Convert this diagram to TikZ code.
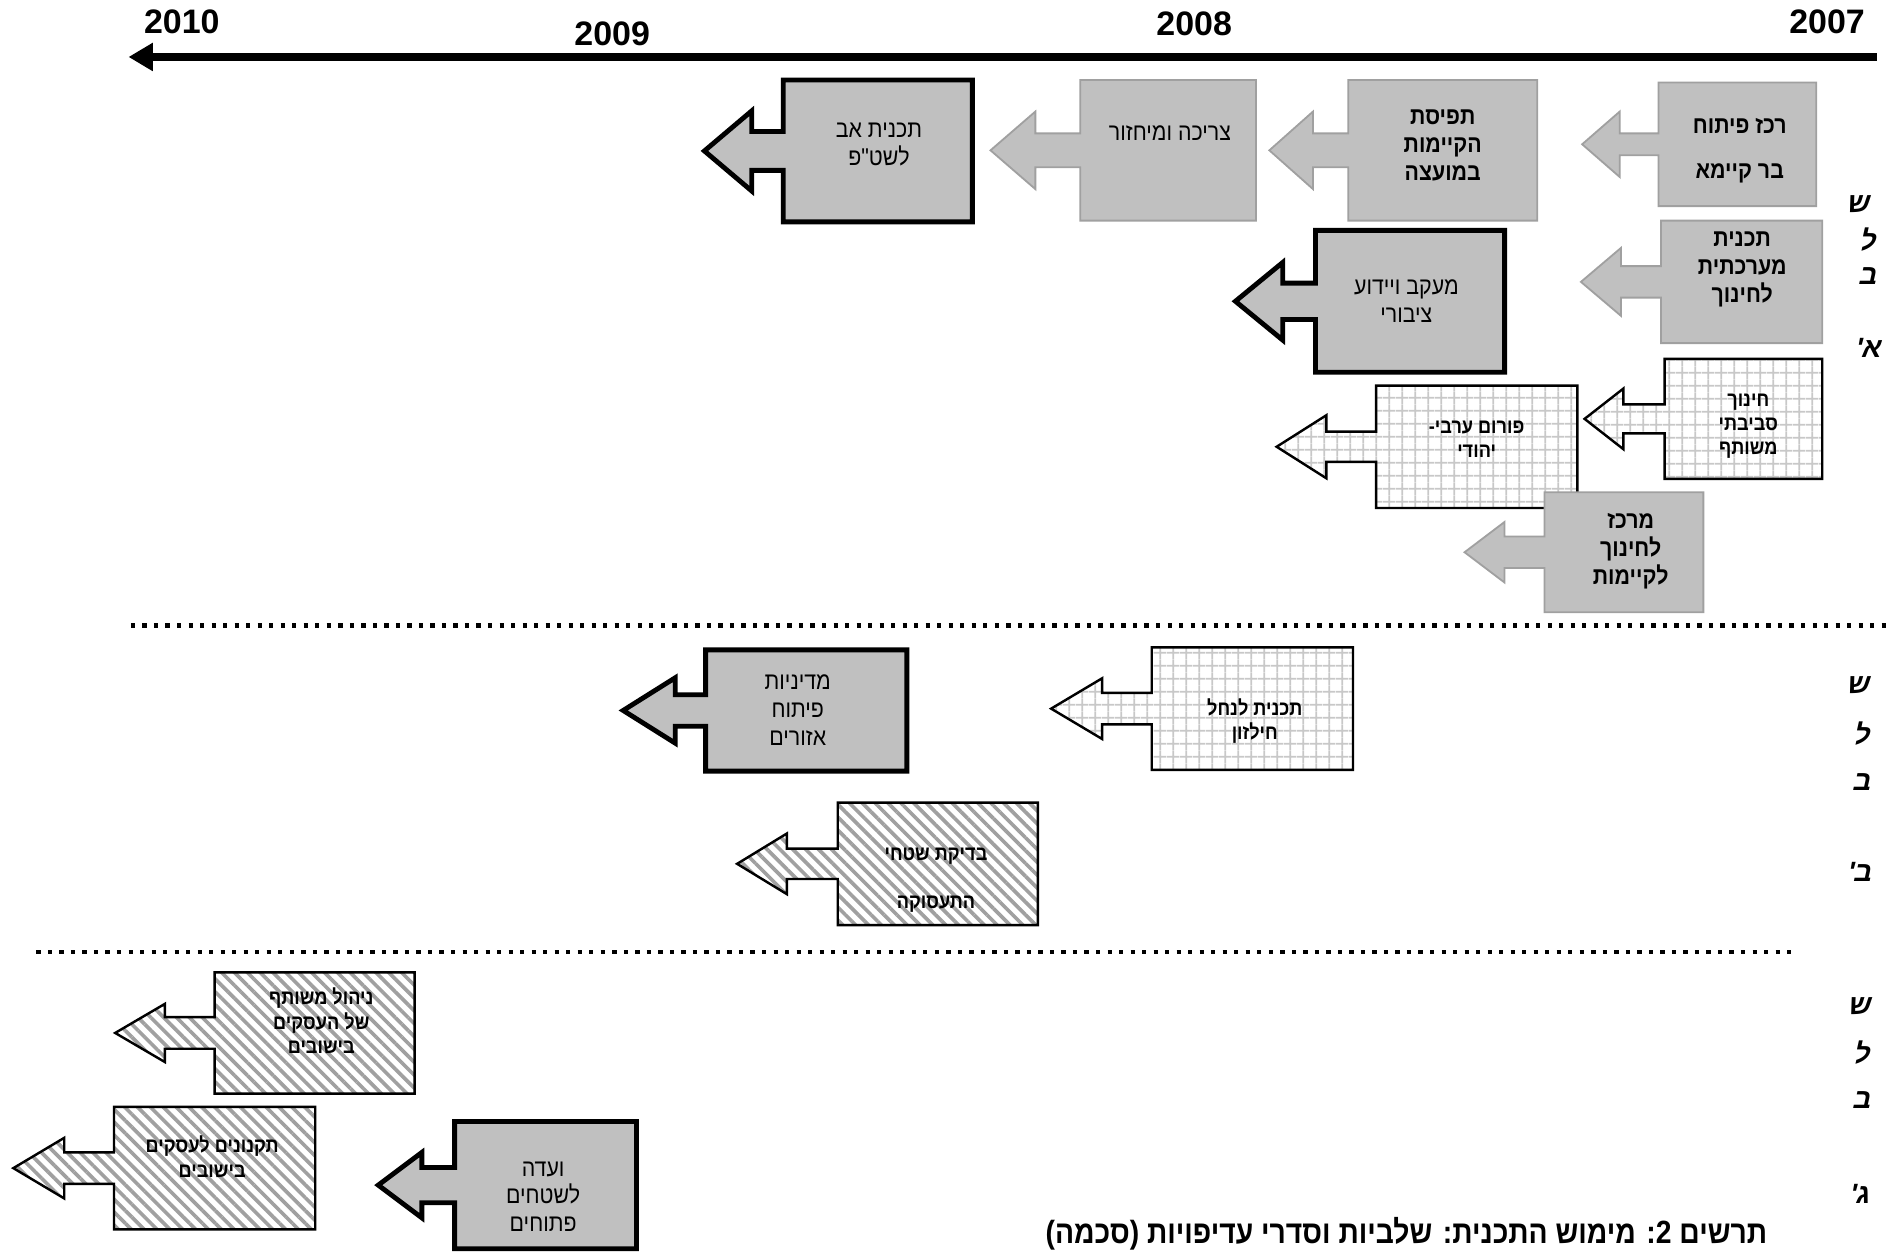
\documentclass[tikz,border=0pt]{standalone}
\usepackage{fontspec}
\setmainfont{Liberation Sans}
\newfontfamily\heb[Script=Hebrew,FakeStretch=0.88]{Liberation Sans}
\newfontfamily\hebsl[Script=Hebrew,FakeSlant=0.22]{Liberation Sans}
\TeXXeTstate=1
\usetikzlibrary{patterns.meta,arrows.meta}
\definecolor{boxgray}{RGB}{192,192,192}
\definecolor{edgegray}{RGB}{160,160,160}
\definecolor{gridgray}{RGB}{200,200,200}
\definecolor{stripegray}{RGB}{160,160,160}
\newcommand\hb[1]{\beginR #1\endR}
\newcommand\arrowshape[9]{%
  \pgfmathsetmacro\cy{(#4+#5)/2}%
  \draw[#1] (#3,#4) -- (#2,#4) -- (#2,{\cy-#9}) -- (#7,{\cy-#9}) -- (#7,{\cy-#8})
    -- (#6,\cy) -- (#7,{\cy+#8}) -- (#7,{\cy+#9}) -- (#2,{\cy+#9}) -- (#2,#5) -- (#3,#5) -- cycle;}
\tikzset{
  grayarrow/.style={fill=boxgray,draw=edgegray,line width=1.5pt,line join=miter},
  thickarrow/.style={fill=boxgray,draw=black,line width=4pt,line join=miter},
  gridarrow/.style={draw=black,line width=2pt,line join=miter,preaction={fill=white},
     pattern={Hatch[angle=0,distance=10.5pt,line width=1.3pt]},pattern color=gridgray},
  stripearrow/.style={draw=black,line width=2pt,line join=miter,preaction={fill=white},
     pattern={Lines[angle=-45,distance=7.5pt,line width=3pt]},pattern color=stripegray},
  txtreg/.style={align=center,inner sep=0pt,font=\heb\fontsize{20}{23}\selectfont},
  txtbold/.style={align=center,inner sep=0pt,font=\heb\bfseries\fontsize{20}{23}\selectfont},
  txtsmall/.style={align=center,inner sep=0pt,font=\heb\bfseries\fontsize{17}{20}\selectfont},
  side/.style={inner sep=0pt,font=\hebsl\bfseries\fontsize{23}{23}\selectfont},
  year/.style={inner sep=0pt,font=\bfseries\fontsize{28}{28}\selectfont},
  dotline/.style={line width=3.5pt,dash pattern=on 3.5pt off 6pt}
}
\begin{document}
\begin{tikzpicture}[x={(1pt,0)},y={(0,-1pt)}]
\useasboundingbox (0,0) rectangle (1568,1033);
\fill[white] (0,0) rectangle (1568,1033);
% timeline
\coordinate (tlR) at (1548,47);
\coordinate (tlL) at (106,47);
\draw[line width=7pt,-{Triangle[length=20pt,width=22pt]}] (tlR) -- (tlL);
\node[year] (y2010) at (150,18) {2010};
\node[year] (y2009) at (505,28) {2009};
\node[year] (y2008) at (985,20) {2008};
\node[year] (y2007) at (1507,18) {2007};
% separators
\coordinate (d1a) at (108,516); \coordinate (d1b) at (1557,516);
\draw[dotline] (d1a) -- (d1b);
\coordinate (d2a) at (30,785); \coordinate (d2b) at (1482,785);
\draw[dotline] (d2a) -- (d2b);
% stage A
\arrowshape{grayarrow}{1368}{1498}{68}{170}{1305}{1336}{27}{9}
\node[txtbold] (t1) at (1435,124.5) {\hb{רכז פיתוח}\\[14pt]\hb{בר קיימא}};
\arrowshape{grayarrow}{1112}{1268}{66}{182}{1047}{1083}{32}{14}
\node[txtbold] (t2) at (1190,120) {\hb{תפיסת}\\\hb{הקיימות}\\\hb{במועצה}};
\arrowshape{grayarrow}{891}{1036}{66}{182}{817}{854}{32}{14}
\node[txtreg] (t3) at (965,110) {\hb{צריכה ומיחזור}};
\arrowshape{thickarrow}{646}{802}{66}{183}{581}{620}{33}{16}
\node[txtreg] (t4) at (725,119.5) {\hb{תכנית אב}\\\hb{לשט"פ}};
\arrowshape{grayarrow}{1370}{1503}{182}{283}{1304}{1337}{28}{13}
\node[txtbold] (t5) at (1437,222) {\hb{תכנית}\\\hb{מערכתית}\\\hb{לחינוך}};
\arrowshape{thickarrow}{1085}{1241}{190}{307}{1019}{1058}{32}{15}
\node[txtreg] (t6) at (1160,248.5) {\hb{מעקב ויידוע}\\\hb{ציבורי}};
\arrowshape{gridarrow}{1373}{1503}{296}{395}{1307}{1339}{25}{12}
\node[txtsmall] (t7) at (1442,351.5) {\hb{חינוך}\\\hb{סביבתי}\\\hb{משותף}};
\arrowshape{gridarrow}{1135}{1301}{318}{419}{1053}{1094}{26}{12.5}
\node[txtsmall] (t8) at (1218,362) {\hb{פורום ערבי-}\\\hb{יהודי}};
\arrowshape{grayarrow}{1274}{1405}{406}{505}{1208}{1241}{25}{13}
\node[txtbold] (t9) at (1345,454.5) {\hb{מרכז}\\\hb{לחינוך}\\\hb{לקיימות}};
% stage B
\arrowshape{thickarrow}{582}{748}{536}{636}{514}{557}{27}{13}
\node[txtreg] (t10) at (658,585.5) {\hb{מדיניות}\\\hb{פיתוח}\\\hb{אזורים}};
\arrowshape{gridarrow}{950}{1116}{534}{635}{867}{909}{25}{13}
\node[txtsmall] (t11) at (1035,594.5) {\hb{תכנית לנחל}\\\hb{חילזון}};
\arrowshape{stripearrow}{691}{856}{662}{763}{608}{649}{25}{12.5}
\node[txtsmall] (t12) at (772,726) {\hb{בדיקת שטחי}\\[20pt]\hb{התעסוקה}};
% stage C
\arrowshape{stripearrow}{177}{342}{802}{902}{95}{136}{24}{13}
\node[txtsmall] (t13) at (265,842) {\hb{ניהול משותף}\\\hb{של העסקים}\\\hb{בישובים}};
\arrowshape{stripearrow}{94}{260}{913}{1014}{11}{53}{25}{13}
\node[txtsmall] (t14) at (175,954) {\hb{תקנונים לעסקים}\\\hb{בישובים}};
\arrowshape{thickarrow}{375}{525}{925}{1030}{312}{348}{27}{14.5}
\node[txtreg] (t15) at (448,987) {\hb{ועדה}\\\hb{לשטחים}\\\hb{פתוחים}};
% side labels
\node[side] (a1) at (1532,168) {\hb{ש}};
\node[side] (a2) at (1540,198) {\hb{ל}};
\node[side] (a3) at (1540,228) {\hb{ב}};
\node[side] (a4) at (1540,287) {\hb{א'}};
\node[side] (b1) at (1532,565) {\hb{ש}};
\node[side] (b2) at (1535,605) {\hb{ל}};
\node[side] (b3) at (1535,645) {\hb{ב}};
\node[side] (b4) at (1533,719) {\hb{ב'}};
\node[side] (c1) at (1533,830) {\hb{ש}};
\node[side] (c2) at (1535,868) {\hb{ל}};
\node[side] (c3) at (1535,907) {\hb{ב}};
\node[side] (c4) at (1533,985) {\hb{ג'}};
% caption
\node[inner sep=0pt,font=\heb\bfseries\fontsize{26.5}{26.5}\selectfont] (cap) at (1160,1018)
  {\hb{תרשים 2: מימוש התכנית: שלביות וסדרי עדיפויות (סכמה)}};
\end{tikzpicture}
\end{document}
